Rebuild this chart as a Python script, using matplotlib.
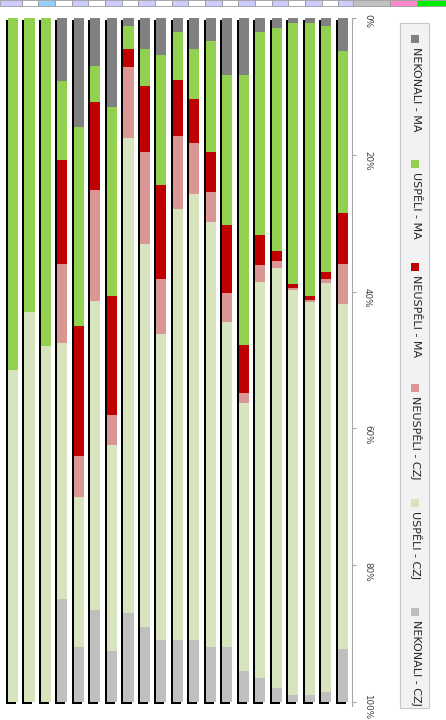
import numpy as np
import matplotlib
matplotlib.use('Agg')
import matplotlib.pyplot as plt
from matplotlib.patches import Rectangle
from matplotlib.transforms import ScaledTranslation

# series (percent of each bar), stacked from the top (0 %) downwards
series = ['NEKONALI - MA', 'USPĚLI - MA', 'NEUSPĚLI - MA',
          'NEUSPĚLI - CZJ', 'USPĚLI - CZJ', 'NEKONALI - CZJ']
colors = ['#808080', '#92d050', '#c00000', '#d99694', '#d7e4bd', '#bfbfbf']

# cumulative boundaries (end of each of the first 5 segments)
bounds = [
    [0.0, 51.5, 51.5, 51.5, 100.0],
    [0.0, 43.0, 43.0, 43.0, 100.0],
    [0.0, 48.0, 48.0, 48.0, 100.0],
    [9.2, 20.8, 36.0, 47.5, 85.0],
    [16.0, 45.0, 64.0, 70.0, 92.0],
    [7.0, 12.3, 25.1, 41.4, 86.5],
    [13.0, 40.6, 58.0, 62.5, 92.5],
    [1.2, 4.6, 7.2, 17.5, 87.0],
    [4.5, 10.0, 19.6, 33.0, 89.0],
    [5.4, 24.4, 38.2, 46.2, 91.0],
    [2.1, 9.0, 17.3, 27.9, 91.0],
    [4.5, 11.9, 18.3, 25.7, 91.0],
    [3.4, 19.6, 25.4, 29.9, 92.0],
    [8.4, 30.2, 40.2, 44.4, 92.0],
    [8.4, 47.8, 54.8, 56.3, 95.5],
    [2.0, 31.8, 36.1, 38.6, 96.5],
    [1.5, 34.0, 35.6, 36.5, 98.0],
    [0.8, 38.9, 39.5, 39.7, 99.0],
    [0.8, 40.7, 41.3, 41.5, 99.0],
    [1.2, 37.2, 38.2, 38.8, 98.5],
    [4.8, 28.5, 36.0, 41.8, 92.2],
]
ticks = [0, 20, 40, 60, 80, 100]
tick_labels = ['0%', '20%', '40%', '60%', '80%', '100%']

W, H = 446, 720
fig = plt.figure(figsize=(W / 100, H / 100), dpi=100)
fig.patch.set_facecolor('white')

ax = fig.add_axes([0, 1 - 706 / H, 352 / W, (706 - 18) / H])
x = np.arange(len(bounds))
b = np.array(bounds)
edges = np.column_stack([np.zeros(len(b)), b, np.full(len(b), 100.0)])
values = np.diff(edges, axis=1)

step = 16.5
bw = 10 / step
# bar shadow (left + bottom)
ax.bar(x - 2 / step, 100, bottom=0.3, width=bw, color='black', zorder=1)
for i in range(len(series)):
    ax.bar(x, values[:, i], bottom=edges[:, i], width=bw, color=colors[i],
           zorder=2, linewidth=0)

ax.set_xlim(-13 / step, (352 - 13) / step)
ax.set_ylim(100.6, 0)
ax.set_xticks([])
for s in ['left', 'top', 'bottom']:
    ax.spines[s].set_visible(False)
ax.spines['right'].set_color('#a6a6a6')
ax.yaxis.tick_right()
ax.set_yticks(ticks)
ax.set_yticklabels(tick_labels, rotation=-90, fontsize=6.3, color='#404040')
ax.tick_params(axis='y', length=3, width=0.8, color='#a6a6a6', pad=5)
# last label sits a little higher so it stays inside the picture
last = ax.get_yticklabels()[-1]
last.set_transform(last.get_transform() + ScaledTranslation(0, 4 / 100, fig.dpi_scale_trans))

# legend drawn by hand (rotated like the chart)
fig.patches.append(Rectangle((400 / W, 1 - 708 / H), 29 / W, (708 - 23) / H,
                             transform=fig.transFigure, facecolor='#f2f2f2',
                             edgecolor='#c8c8c8', linewidth=0.8))
leg_y = [39, 164, 267, 388, 503, 612]
for name, col, yy in zip(series, colors, leg_y):
    fig.patches.append(Rectangle((411 / W, 1 - (yy + 4) / H), 8 / W, 8 / H,
                                 transform=fig.transFigure, facecolor=col,
                                 edgecolor='none'))
    fig.text(416 / W, 1 - (yy + 8) / H, name, rotation=-90, ha='center',
             va='top', fontsize=8, color='#262626')

# spreadsheet header strip at the top
hdr_edges = [0, 21.7, 38.3, 55, 71.7, 88.3, 105, 121.7, 138.3, 155, 171.7,
             188.3, 205, 221.7, 238.3, 255, 271.7, 288.3, 305, 321.7, 338.3,
             353.3, 390, 416.7, 446]
hdr_cols = ['#ccccff', 'white', '#99ccff', 'white', '#ccccff', 'white',
            '#ccccff', 'white', '#ccccff', 'white', '#ccccff', 'white',
            '#ccccff', 'white', '#ccccff', 'white', '#ccccff', 'white',
            '#ccccff', 'white', '#ccccff', '#c0c0c0', '#ff88cc', '#00ee00']
for x0, x1, c in zip(hdr_edges[:-1], hdr_edges[1:], hdr_cols):
    fig.patches.append(Rectangle((x0 / W, 1 - 6 / H), (x1 - x0) / W, 6 / H,
                                 transform=fig.transFigure, facecolor=c,
                                 edgecolor='#9a9a9a', linewidth=0.6))

fig.savefig('out.png', dpi=100)
